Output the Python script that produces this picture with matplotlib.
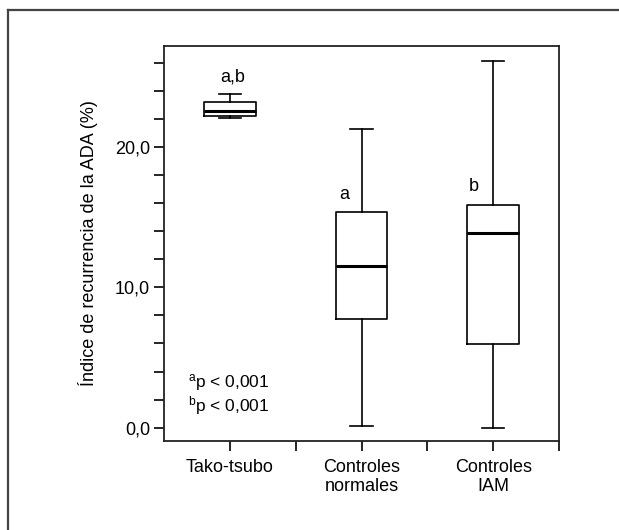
import matplotlib
matplotlib.use("Agg")
import matplotlib.pyplot as plt
from matplotlib.lines import Line2D

plt.rcParams['font.family'] = ['Liberation Sans Narrow', 'Liberation Sans', 'DejaVu Sans']
plt.rcParams['mathtext.fontset'] = 'custom'
plt.rcParams['mathtext.rm'] = 'Liberation Sans'
plt.rcParams['mathtext.it'] = 'Liberation Sans'
plt.rcParams['mathtext.bf'] = 'Liberation Sans'

categories = ["Tako-tsubo", "Controles\nnormales", "Controles\nIAM"]
whisker_low = [22.1, 0.1, 0.0]
q1 = [22.2, 7.75, 5.95]
median = [22.6, 11.5, 13.9]
q3 = [23.2, 15.4, 15.9]
whisker_high = [23.8, 21.3, 26.1]
group_letters = ["a,b", "a", "b"]
yticks = [0, 10, 20]
ytick_labels = ["0,0", "10,0", "20,0"]
note_lines = [r"$^{\mathrm{a}}$p < 0,001", r"$^{\mathrm{b}}$p < 0,001"]

W, H = 619, 530
fig = plt.figure(figsize=(W/100, H/100), dpi=100)
ax = fig.add_axes([164/W, 1-441/H, (559-164)/W, (441-46)/H])

stats = []
for i in range(len(categories)):
    stats.append(dict(med=median[i], q1=q1[i], q3=q3[i],
                      whislo=whisker_low[i], whishi=whisker_high[i], fliers=[]))

ax.bxp(stats, positions=[1, 2, 3], widths=0.39, capwidths=0.17,
       showfliers=False, patch_artist=False,
       boxprops=dict(color='black', lw=1.2),
       whiskerprops=dict(color='black', lw=1.2),
       capprops=dict(color='black', lw=1.2),
       medianprops=dict(color='black', lw=2.2))

ax.set_xlim(0.5, 3.5)
ax.set_ylim(-0.95, 27.2)
ax.set_xticks([1, 2, 3])
ax.set_xticklabels(categories, fontsize=13, linespacing=1.15)
ax.set_xticks([1.5, 2.5, 3.5], minor=True)
ax.set_yticks(yticks)
ax.set_yticklabels(ytick_labels, fontsize=13)
ax.set_yticks([2, 4, 6, 8, 12, 14, 16, 18, 22, 24, 26], minor=True)
ax.tick_params(axis='both', which='both', length=7, width=1.2, color='black', direction='out')
ax.tick_params(axis='x', which='major', pad=6)
ax.tick_params(axis='y', which='major', pad=3)
for s in ax.spines.values():
    s.set_linewidth(1.3)
    s.set_color('#222222')

ax.set_ylabel("Índice de recurrencia de la ADA (%)", fontsize=13, labelpad=12)

letter_pos = [(1.02, 25.0), (1.87, 16.6), (2.85, 17.2)]
for (lx, ly), t in zip(letter_pos, group_letters):
    ax.text(lx, ly, t, fontsize=13, ha='center', va='center')

ax.text(0.68, 3.25, note_lines[0], fontsize=12.5, ha='left', va='center')
ax.text(0.68, 1.6, note_lines[1], fontsize=12.5, ha='left', va='center')

# partial outer frame (top and left)
fig.add_artist(Line2D([7.5/W, 7.5/W], [0, 1-10/H], transform=fig.transFigure, color='#444444', lw=1.6))
fig.add_artist(Line2D([7.5/W, 1], [1-10/H, 1-10/H], transform=fig.transFigure, color='#444444', lw=1.6))

fig.savefig("out.png", dpi=100)
